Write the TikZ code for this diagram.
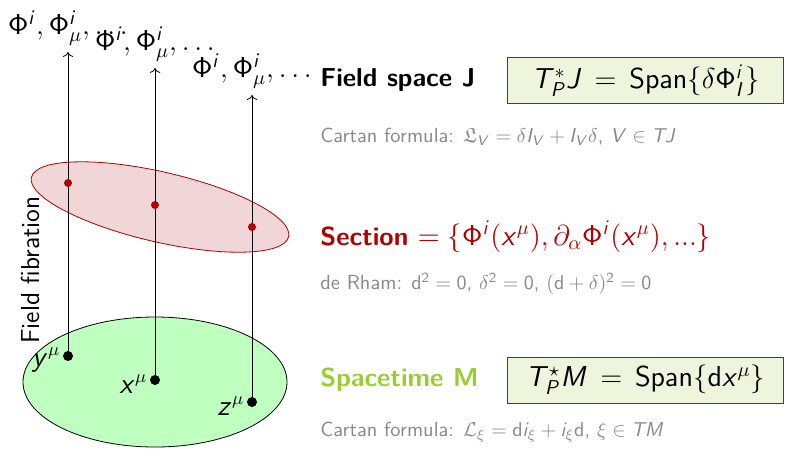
\documentclass[tikz,border=0pt]{standalone}
\usepackage{amsmath,amsfonts,amssymb}
\usepackage{xcolor}
\definecolor{sectred}{RGB}{176,0,0}
\definecolor{sectfill}{RGB}{240,214,214}
\definecolor{stgreen}{RGB}{154,205,50}
\definecolor{mfill}{RGB}{191,255,191}
\definecolor{boxfill}{RGB}{237,246,221}
\definecolor{notegray}{RGB}{136,136,136}
\usetikzlibrary{arrows.meta,positioning}

% sans serif math letters, digits and capital Greek
\DeclareSymbolFont{sfops}{OT1}{cmss}{m}{n}
\DeclareSymbolFont{sfit}{OT1}{cmss}{m}{sl}
\SetMathAlphabet{\mathrm}{normal}{OT1}{cmss}{m}{n}
\makeatletter
\@tfor\ch:=abcdefghijklmnopqrstuvwxyzABCDEFGHIJKLMNOPQRSTUVWXYZ\do{%
  \mathcode\expandafter`\ch=\numexpr"7000+\symsfit*"100+\expandafter`\ch\relax}
\@tfor\ch:=0123456789\do{%
  \mathcode\expandafter`\ch=\numexpr"7000+\symsfops*"100+\expandafter`\ch\relax}
\makeatother
\mathchardef\Phi=\numexpr"7000+\symsfops*"100+"08\relax

\begin{document}
\begin{tikzpicture}[
    x=0.5pt, y=-0.5pt,
    font=\sffamily,
    pt/.style={circle, fill=black, inner sep=0pt, minimum size=5pt},
    secpt/.style={circle, fill=sectred, inner sep=0pt, minimum size=4pt},
    fib/.style={->, black},
    top/.style={anchor=south, inner sep=1pt, yshift=2pt, font=\sffamily\Large},
    ptlabel/.style={anchor=east, inner sep=1pt, font=\sffamily\fontsize{13.5}{16}\selectfont},
    head/.style={anchor=west, inner sep=0pt, font=\sffamily\fontsize{13}{16}\selectfont\bfseries},
    note/.style={anchor=west, inner sep=0pt, text=notegray, font=\sffamily\fontsize{10.2}{12}\selectfont},
    spanbox/.style={rectangle, draw=black!75, fill=boxfill, minimum width=138pt, minimum height=23pt, font=\sffamily\Large},
]
\useasboundingbox (0,0) rectangle (786,467);

% Spacetime and section
\draw[fill=mfill] (155,382) ellipse [x radius=132, y radius=65];
\draw[sectred, fill=sectfill] (160,207) ellipse [x radius=132, y radius=35, rotate=-13];

% Points of M
\node[pt] (y) at (68,356) {};
\node[pt] (x) at (155,380) {};
\node[pt] (z) at (252,402) {};
\coordinate (ytop) at (68,52);
\coordinate (xtop) at (155,68);
\coordinate (ztop) at (252,95);

% Fibres
\draw[fib] (y) -- (ytop);
\draw[fib] (x) -- (xtop);
\draw[fib] (z) -- (ztop);
\node[secpt] (ys) at (68,183) {};
\node[secpt] (xs) at (155,205) {};
\node[secpt] (zs) at (252,227) {};

\node[top] (yfield) at (ytop) {$\Phi^i, \Phi^i_\mu, \ldots$};
\node[top] (xfield) at (xtop) {$\Phi^i, \Phi^i_\mu, \ldots$};
\node[top] (zfield) at (ztop) {$\Phi^i, \Phi^i_\mu, \ldots$};

\node[ptlabel, yshift=-2pt] (ylab) at (y.west) {$y^\mu$};
\node[ptlabel, yshift=-2pt] (xlab) at (x.west) {$x^\mu$};
\node[ptlabel, yshift=-2pt] (zlab) at (z.west) {$z^\mu$};

\node[rotate=90, font=\sffamily\fontsize{13}{16}\selectfont] (fibration) at (30,270) {Field fibration};

% Right column
\node[head] (jlabel) at (320,80) {Field space J};
\node[spanbox] (jbox) at (645.5,80.5) {$T^*_P J \,=\, \mathrm{Span}\{\delta\Phi^i_I\}$};
\node[note] (jnote) at (320,137) {Cartan formula: $\mathfrak{L}_V = \delta I_V + I_V \delta$, $V \in TJ$};

\node[head, text=sectred] (slabel) at (320,237) {Section \mdseries\fontsize{13.9}{16}\selectfont$= \{\Phi^i(x^\mu), \partial_\alpha \Phi^i(x^\mu), ...\}$};
\node[note] (snote) at (320,284) {de Rham: $\mathrm{d}^2 = 0$, $\delta^2 = 0$, $(\mathrm{d} + \delta)^2 = 0$};

\node[head, text=stgreen] (mlabel) at (320,380) {Spacetime M};
\node[spanbox] (mbox) at (645.5,380) {$T^\star_P M \,=\, \mathrm{Span}\{\mathrm{d}x^\mu\}$};
\node[note] (mnote) at (320,432) {Cartan formula: $\mathcal{L}_\xi = \mathrm{d} i_\xi + i_\xi \mathrm{d}$, $\xi \in TM$};

\end{tikzpicture}
\end{document}
